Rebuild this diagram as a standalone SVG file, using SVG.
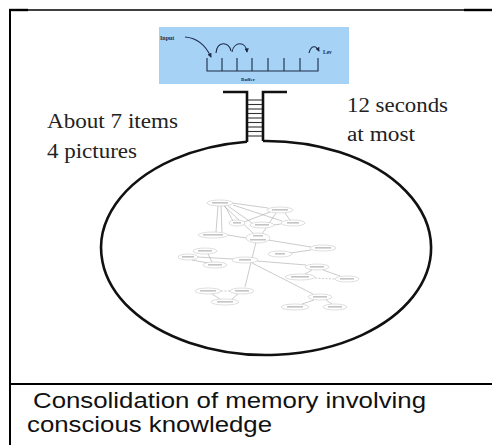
<svg xmlns="http://www.w3.org/2000/svg" width="492" height="445" viewBox="0 0 492 445">
  <style>
    .frame { stroke: #000; fill: none; }
    .bold { stroke: #111; stroke-width: 2.6; fill: none; stroke-linecap: butt; }
    .rung { stroke: #333; stroke-width: 1.1; }
    .label { font-family: "Liberation Serif", "Times New Roman", serif; font-size: 20px; fill: #222; }
    .caption { font-family: "Liberation Sans", Arial, sans-serif; font-size: 22px; fill: #111; }
    .tiny { font-family: "Liberation Serif", "Times New Roman", serif; font-weight: bold; fill: #1d2a48; }
    .ink { stroke: #1d2a48; stroke-width: 1.1; fill: none; }
    .edge { stroke: #a8a8a8; stroke-width: 0.6; fill: none; }
    .dash { stroke-dasharray: 2 1.5; }
    .kn ellipse { fill: #fff; stroke: #bdbdbd; stroke-width: 0.5; }
    .kn rect { fill: #c4c4c4; }
  </style>
  <defs>
    <marker id="tip" viewBox="0 0 6 6" refX="5" refY="3" markerWidth="4" markerHeight="4" orient="auto">
      <path d="M0,0 L6,3 L0,6 z" fill="#1d2a48"/>
    </marker>
  </defs>

  <rect width="492" height="445" fill="#fff"/>

  <!-- table frame -->
  <g id="frame">
    <line class="frame" x1="9" y1="10" x2="492" y2="10" stroke-width="1.3"/>
    <line class="frame" x1="9" y1="10" x2="28" y2="10" stroke-width="2.4"/>
    <line class="frame" x1="464" y1="10" x2="492" y2="10" stroke-width="2.4"/>
    <line class="frame" x1="10" y1="9" x2="10" y2="445" stroke-width="2"/>
    <line class="frame" x1="10" y1="384" x2="492" y2="384" stroke-width="2"/>
  </g>

  <!-- buffer panel -->
  <g id="buffer">
    <rect x="159" y="27" width="190" height="57" fill="#a6d2f6"/>
    <text class="tiny" x="160" y="40" font-size="6">Input</text>
    <path class="ink" d="M185,37 C197,38 206,46 211,57" marker-end="url(#tip)"/>
    <path class="ink" d="M216,53 C217,41 229,41 231,51"/>
    <path class="ink" d="M232,52 C234,41 246,41 247,52" marker-end="url(#tip)"/>
    <path class="ink" d="M309,53 C311,45 316,45 319,51" marker-end="url(#tip)"/>
    <text class="tiny" x="323" y="54" font-size="5.5">Lev</text>
    <path class="ink" d="M207,58 V71 H318 V58 M222,58 V71 M237,58 V71 M252,58 V71 M268,58 V71 M284,58 V71 M300,58 V71"/>
    <text class="tiny" x="248" y="81" font-size="5" text-anchor="middle">Buffer</text>
  </g>

  <!-- ladder into the store -->
  <g id="ladder">
    <path class="bold" d="M223,92 H247 V142 M287,92 H263 V141"/>
    <g class="rung">
      <line x1="248" y1="100" x2="262" y2="100"/>
      <line x1="248" y1="104.5" x2="262" y2="104.5"/>
      <line x1="248" y1="109" x2="262" y2="109"/>
      <line x1="248" y1="113.5" x2="262" y2="113.5"/>
      <line x1="248" y1="118" x2="262" y2="118"/>
      <line x1="248" y1="122.5" x2="262" y2="122.5"/>
      <line x1="248" y1="127" x2="262" y2="127"/>
      <line x1="248" y1="131.5" x2="262" y2="131.5"/>
      <line x1="248" y1="136" x2="262" y2="136"/>
    </g>
  </g>

  <!-- long-term store -->
  <g id="store">
    <path class="bold" d="M247,141.7 A165,107 0 1 0 263,141"/>
  </g>

  <g id="capacity">
    <text class="label" x="47" y="128" textLength="131" lengthAdjust="spacingAndGlyphs">About 7 items</text>
    <text class="label" x="47" y="158" textLength="90" lengthAdjust="spacingAndGlyphs">4 pictures</text>
  </g>
  <g id="duration">
    <text class="label" x="347" y="112" textLength="101" lengthAdjust="spacingAndGlyphs">12 seconds</text>
    <text class="label" x="347" y="141" textLength="68" lengthAdjust="spacingAndGlyphs">at most</text>
  </g>

  <!-- knowledge network: links -->
  <g id="links" class="edge">
    <line x1="218" y1="206" x2="216" y2="232"/>
    <line x1="221" y1="206" x2="222" y2="232"/>
    <line x1="232" y1="203" x2="268" y2="208"/>
    <line x1="225" y1="206" x2="233" y2="221"/>
    <line x1="228" y1="206" x2="252" y2="223"/>
    <line x1="224" y1="206" x2="254" y2="234"/>
    <line x1="233" y1="205" x2="282" y2="221"/>
    <line x1="270" y1="212" x2="244" y2="222"/>
    <line x1="276" y1="213" x2="262" y2="234"/>
    <line x1="285" y1="213" x2="290" y2="220"/>
    <line x1="274" y1="225" x2="281" y2="224"/>
    <line x1="228" y1="235" x2="246" y2="238"/>
    <line x1="268" y1="240" x2="311" y2="247"/>
    <line x1="311" y1="250" x2="290" y2="253"/>
    <line x1="256" y1="242" x2="245" y2="287"/>
    <line x1="208" y1="254" x2="212" y2="262"/>
    <line x1="192" y1="260" x2="208" y2="263"/>
    <line x1="198" y1="257" x2="233" y2="259"/>
    <line x1="257" y1="261" x2="306" y2="265"/>
    <line x1="252" y1="263" x2="313" y2="294"/>
    <line x1="312" y1="270" x2="305" y2="274"/>
    <line x1="323" y1="270" x2="340" y2="276"/>
    <line class="dash" x1="315" y1="278" x2="335" y2="279"/>
    <line class="dash" x1="221" y1="291" x2="230" y2="291"/>
    <line x1="212" y1="294" x2="220" y2="299"/>
    <line x1="238" y1="294" x2="232" y2="299"/>
    <line x1="314" y1="300" x2="302" y2="304"/>
    <line x1="326" y1="300" x2="332" y2="304"/>
  </g>

  <!-- knowledge network: concepts -->
  <g id="n1" class="kn"><ellipse cx="220" cy="203" rx="13" ry="3"/><rect x="212" y="202" width="16" height="1.6"/></g>
  <g id="n2" class="kn"><ellipse cx="280" cy="210" rx="13" ry="3"/><rect x="272" y="209" width="16" height="1.6"/></g>
  <g id="n3" class="kn"><ellipse cx="237" cy="223" rx="8" ry="3"/><rect x="233" y="222" width="8" height="1.6"/></g>
  <g id="n4" class="kn"><ellipse cx="262" cy="225" rx="12" ry="3"/><rect x="255" y="224" width="14" height="1.6"/></g>
  <g id="n5" class="kn"><ellipse cx="293" cy="223" rx="12" ry="3"/><rect x="287" y="222" width="12" height="1.6"/></g>
  <g id="n6" class="kn"><ellipse cx="213" cy="235" rx="15" ry="3"/><rect x="203" y="234" width="20" height="1.6"/></g>
  <g id="n7" class="kn"><ellipse cx="258" cy="238" rx="12" ry="5"/><rect x="253" y="235" width="10" height="1.5"/><rect x="250" y="239" width="16" height="1.5"/></g>
  <g id="n8" class="kn"><ellipse cx="323" cy="248" rx="13" ry="3"/><rect x="315" y="247" width="16" height="1.6"/></g>
  <g id="n9" class="kn"><ellipse cx="280" cy="254" rx="12" ry="3"/><rect x="275" y="253" width="10" height="1.6"/></g>
  <g id="n10" class="kn"><ellipse cx="205" cy="251" rx="12" ry="3"/><rect x="198" y="250" width="14" height="1.6"/></g>
  <g id="n11" class="kn"><ellipse cx="188" cy="257" rx="10" ry="3"/><rect x="182" y="256" width="12" height="1.6"/></g>
  <g id="n12" class="kn"><ellipse cx="245" cy="260" rx="13" ry="3"/><rect x="239" y="259" width="12" height="1.6"/></g>
  <g id="n13" class="kn"><ellipse cx="215" cy="265" rx="12" ry="3"/><rect x="208" y="264" width="14" height="1.6"/></g>
  <g id="n14" class="kn"><ellipse cx="317" cy="267" rx="12" ry="3"/><rect x="310" y="266" width="14" height="1.6"/></g>
  <g id="n15" class="kn"><ellipse cx="300" cy="277" rx="15" ry="3"/><rect x="291" y="276" width="18" height="1.6"/></g>
  <g id="n16" class="kn"><ellipse cx="347" cy="279" rx="12" ry="3"/><rect x="340" y="278" width="14" height="1.6"/></g>
  <g id="n17" class="kn"><ellipse cx="208" cy="291" rx="13" ry="3"/><rect x="200" y="290" width="16" height="1.6"/></g>
  <g id="n18" class="kn"><ellipse cx="242" cy="291" rx="12" ry="3"/><rect x="235" y="290" width="14" height="1.6"/></g>
  <g id="n19" class="kn"><ellipse cx="225" cy="302" rx="14" ry="3"/><rect x="217" y="301" width="16" height="1.6"/></g>
  <g id="n20" class="kn"><ellipse cx="320" cy="297" rx="12" ry="3"/><rect x="313" y="296" width="14" height="1.6"/></g>
  <g id="n21" class="kn"><ellipse cx="295" cy="307" rx="14" ry="3"/><rect x="287" y="306" width="16" height="1.6"/></g>
  <g id="n22" class="kn"><ellipse cx="335" cy="307" rx="12" ry="3"/><rect x="328" y="306" width="14" height="1.6"/></g>

  <!-- caption cell -->
  <g id="caption">
    <text class="caption" x="33" y="408" textLength="393" lengthAdjust="spacingAndGlyphs">Consolidation of memory involving</text>
    <text class="caption" x="27" y="432" textLength="245" lengthAdjust="spacingAndGlyphs">conscious knowledge</text>
  </g>
</svg>
